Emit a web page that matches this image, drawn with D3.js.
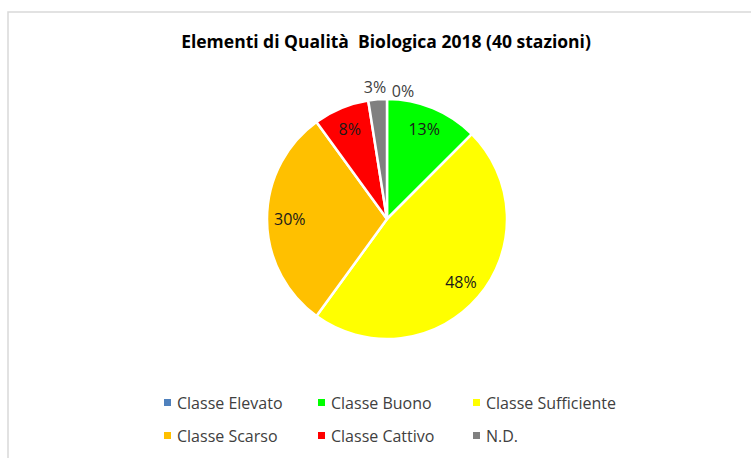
<!DOCTYPE html>
<html>
<head>
<meta charset="utf-8">
<script src="https://cdn.jsdelivr.net/npm/d3@7"></script>
<style>
  body { margin: 0; background: #fff; }
  svg { display: block; font-family: "Open Sans", "Noto Sans", sans-serif; }
</style>
</head>
<body>
<svg width="751" height="458"></svg>
<script>
// data: number of stations per class (40 total)
var categories = ["Classe Elevato", "Classe Buono", "Classe Sufficiente", "Classe Scarso", "Classe Cattivo", "N.D."];
var stations = [0, 5, 19, 12, 3, 1];
var labels = ["0%", "13%", "48%", "30%", "8%", "3%"];
var colors = ["#4f81bd", "#00ff00", "#ffff00", "#ffc000", "#ff0000", "#808080"];

var svg = d3.select("svg"),
    cx = 387, cy = 219, radius = 120;

// chart frame (only top and left edges visible)
svg.append("path")
    .attr("d", "M8,458 L8,12 L751,12")
    .attr("fill", "none")
    .attr("stroke", "#d9d9d9")
    .attr("stroke-width", 1.5);

svg.append("text")
    .attr("x", 386)
    .attr("y", 48)
    .attr("text-anchor", "middle")
    .style("font-size", "17.5px")
    .style("font-weight", "bold")
    .style("white-space", "pre")
    .attr("fill", "#000")
    .text("Elementi di Qualità  Biologica 2018 (40 stazioni)");

var data = categories.map(function(c, i) {
    return {name: c, value: stations[i], label: labels[i], color: colors[i]};
});

var pie = d3.pie().sort(null).value(function(d) { return d.value; });
var arc = d3.arc().innerRadius(0).outerRadius(radius);
var arcs = pie(data);

var g = svg.append("g").attr("transform", "translate(" + cx + "," + cy + ")");

g.selectAll("path.slice")
    .data(arcs)
    .enter().append("path")
    .attr("class", "slice")
    .attr("d", arc)
    .attr("fill", function(d) { return d.data.color; })
    .attr("stroke", "#fff")
    .attr("stroke-width", 2.5)
    .attr("stroke-linejoin", "round");

// label positions: inside for big slices, outside for small ones
var inner = d3.arc().innerRadius(radius * 0.81).outerRadius(radius * 0.81);

g.selectAll("text.lbl")
    .data(arcs)
    .enter().append("text")
    .attr("class", "lbl")
    .attr("transform", function(d) {
        var p;
        if (d.data.value === 0) p = [16, -128];
        else if (d.data.name === "N.D.") p = [-12, -132];
        else p = inner.centroid(d);
        return "translate(" + p[0] + "," + p[1] + ")";
    })
    .attr("text-anchor", "middle")
    .attr("dy", "0.35em")
    .style("font-size", "16px")
    .attr("fill", function(d) { return (d.data.value === 0 || d.data.name === "N.D.") ? "#404040" : "#1a1a1a"; })
    .text(function(d) { return d.data.label; });

// legend
var colX = [164, 318, 473], rowY = [403, 436];
var legend = svg.selectAll("g.legend")
    .data(data)
    .enter().append("g")
    .attr("class", "legend")
    .attr("transform", function(d, i) {
        return "translate(" + colX[i % 3] + "," + rowY[Math.floor(i / 3)] + ")";
    });

legend.append("rect")
    .attr("x", 0).attr("y", -4)
    .attr("width", 7).attr("height", 7)
    .attr("fill", function(d) { return d.color; });

legend.append("text")
    .attr("x", 13)
    .attr("dy", "0.35em")
    .style("font-size", "16px")
    .attr("fill", "#404040")
    .text(function(d) { return d.name; });
</script>
</body>
</html>
